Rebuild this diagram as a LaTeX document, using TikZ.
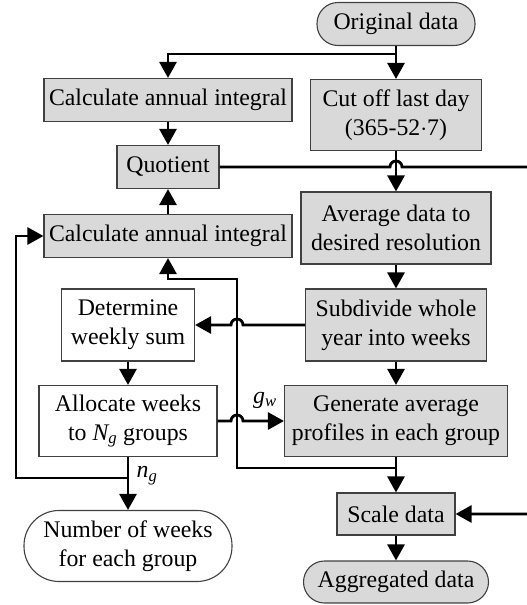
\documentclass[tikz,border=0pt]{standalone}
\usepackage{fontspec}
\setmainfont{Liberation Serif}
\usetikzlibrary{arrows.meta}

\definecolor{boxgray}{HTML}{D9D9D9}
\definecolor{edgegray}{HTML}{404040}

\tikzset{
  stepbox/.style={draw=edgegray,line width=1.1pt,fill=boxgray,align=center,inner sep=0pt},
  plainbox/.style={stepbox,fill=white},
  pill/.style={stepbox,rounded corners=21pt},
  flow/.style={line width=2.8pt,-{Triangle[length=16pt,width=17pt]}},
  lbl/.style={inner sep=1pt}
}

\begin{document}
\begin{tikzpicture}[x=1pt,y=-1pt,font=\fontsize{23.8}{29}\selectfont]
\useasboundingbox (0,0) rectangle (527,605);
% main column
\node[pill,minimum width=158,minimum height=43] (orig) at (396,24) {Original data};
\node[stepbox,minimum width=171,minimum height=71] (cut) at (396,115) {Cut off last day\\(365-52$\cdot$7)};
\node[stepbox,minimum width=190,minimum height=72] (avg) at (396,228) {Average data to\\desired resolution};
\node[stepbox,minimum width=181,minimum height=72] (subdiv) at (396,325) {Subdivide whole\\year into weeks};
\node[stepbox,minimum width=223,minimum height=71] (genavg) at (396,421) {Generate average\\profiles in each group};
\node[stepbox,minimum width=118,minimum height=42] (scale) at (396,514) {Scale data};
\node[pill,minimum width=185,minimum height=42] (aggr) at (396,582) {Aggregated data};
% left column
\node[stepbox,minimum width=248,minimum height=43] (calcA) at (168,100) {Calculate annual integral};
\node[stepbox,minimum width=102,minimum height=43] (quot) at (168,167) {Quotient};
\node[stepbox,minimum width=248,minimum height=43] (calcB) at (168,236) {Calculate annual integral};
\node[plainbox,minimum width=133,minimum height=72] (weeksum) at (128,325) {Determine\\weekly sum};
\node[plainbox,minimum width=178,minimum height=71] (alloc) at (128,421) {Allocate weeks\\to \textit{N\textsubscript{g}} groups};
\node[plainbox,rounded corners=35pt,minimum width=208,minimum height=71] (nweeks) at (128,546) {Number of weeks\\for each group};

\coordinate (split) at (396,54);
\draw[flow] (orig) -- (cut);
\draw[flow] (split) -| (calcA);
\draw[flow] (calcA) -- (quot);
\draw[flow] (calcB) -- (quot);
\draw[flow] (cut) -- (avg);
\draw[flow] (avg) -- (subdiv);
\draw[flow] (subdiv) -- (genavg);
\draw[flow] (genavg) -- (scale);
\draw[flow] (scale) -- (aggr);
\draw[flow] (weeksum) -- (alloc);
\draw[flow] (alloc) -- (nweeks);
% crossings with jumps
\draw[flow] (quot.east) -- (390,167) arc[start angle=180,end angle=0,radius=6pt] -- (531,167) |- (scale.east);
\draw[flow] (subdiv.west) -- (243,325) arc[start angle=0,end angle=180,radius=6pt] -- (weeksum.east);
\draw[flow] (alloc.east) -- (231,421) arc[start angle=180,end angle=0,radius=6pt] -- (genavg.west);
\node[lbl] (gw) at (265,400) {\textit{g\textsubscript{w}}};
% feedback lines
\coordinate (back) at (396,468);
\coordinate (ngsplit) at (128,478);
\draw[flow] (back) -- (237,468) -- (237,279) -| (calcB.south);
\draw[flow] (ngsplit) -- (16,478) |- (calcB.west);
\node[lbl] (ng) at (147,476) {\textit{n\textsubscript{g}}};
\end{tikzpicture}
\end{document}
